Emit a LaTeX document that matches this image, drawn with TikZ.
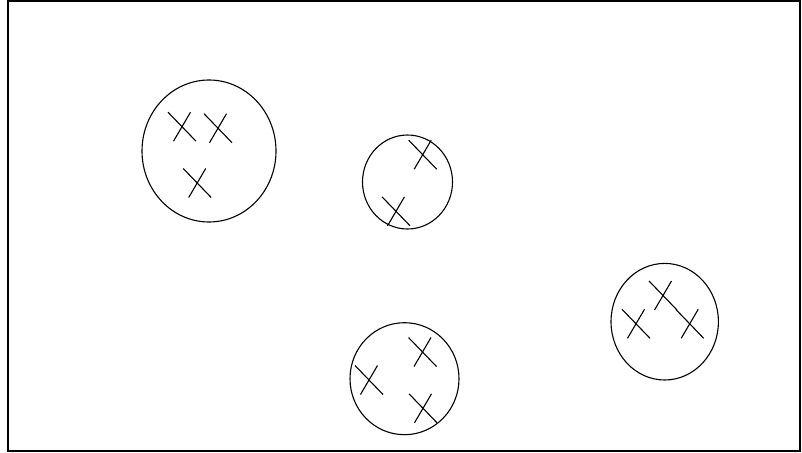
\documentclass[tikz,border=0pt]{standalone}
\usepackage{tikz}
\usetikzlibrary{calc}

\begin{document}
\begin{tikzpicture}[x=1pt,y=-1pt,line width=1.1pt]
\useasboundingbox (0,0) rectangle (802,452);
\draw (8,1) rectangle (800,451);
% clusters
\draw (209,151) ellipse (67pt and 71pt);
\draw (407.5,182) ellipse (45pt and 47pt);
\draw (404.5,378.7) ellipse (54.5pt and 56pt);
\draw (664.7,321.7) ellipse (53.7pt and 58.3pt);
% points
\foreach \cx/\cy in {182/126.7,218/128.2,197.2/183,422.7/154.7,396/211.3,422.5/352,369/380,423/408.3,636/323.8,663/295.5,689.7/323.8}{
  \draw (\cx-14,\cy-14.5)--(\cx+14,\cy+14.5);
  \draw (\cx-8.5,\cy+14.5)--(\cx+8.5,\cy-14.5);
}
\end{tikzpicture}
\end{document}
